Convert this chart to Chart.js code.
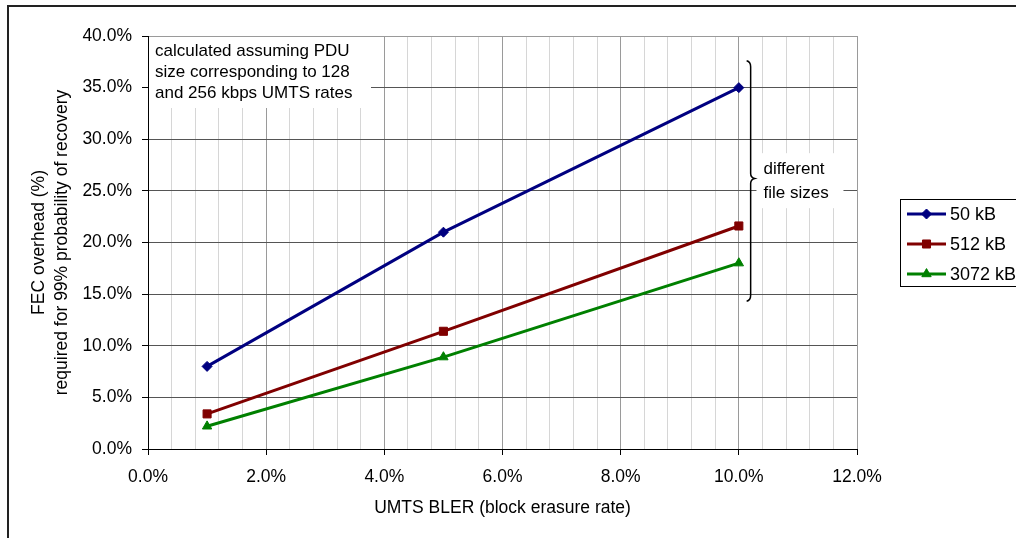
<!DOCTYPE html>
<html><head><meta charset="utf-8">
<script src="https://cdn.jsdelivr.net/npm/chart.js@4.4.0/dist/chart.umd.min.js"></script>
<style>html,body{margin:0;padding:0;background:#fff;overflow:hidden}#wrap{position:relative;width:1016px;height:538px}</style>
</head><body><div id="wrap"><canvas id="c" width="1016" height="538"></canvas></div>
<script>
// ---- data ----
const blerValues = [1, 5, 10];                 // UMTS BLER (%)
const overhead50kB = [8.0, 21.0, 35.0];        // FEC overhead (%)
const overhead512kB = [3.4, 11.4, 21.6];
const overhead3072kB = [2.2, 8.9, 18.0];
const seriesNames = ['50 kB', '512 kB', '3072 kB'];
const seriesColors = ['#000080', '#800000', '#008000'];
const seriesMarkers = ['rectRot', 'rect', 'triangle'];
const xRange = [0, 12];
const yRange = [0, 40];
const xTitle = 'UMTS BLER (block erasure rate)';
const yTitle = ['FEC overhead (%)', 'required for 99% probability of recovery'];
const noteLines = ['calculated assuming PDU', 'size corresponding to 128', 'and 256 kbps UMTS rates'];
const braceLines = ['different', 'file sizes'];

const FONT = "'Liberation Sans', Arial, sans-serif";
const seriesValues = [overhead50kB, overhead512kB, overhead3072kB];
const markerRadius = [5, 5.7, 5.4];

function isMajor(v) { return Math.abs(v / 2 - Math.round(v / 2)) < 1e-6; }

const datasets = seriesValues.map((vals, i) => ({
  label: seriesNames[i],
  data: blerValues.map((x, j) => ({ x: x, y: vals[j] })),
  borderColor: seriesColors[i],
  backgroundColor: seriesColors[i],
  borderWidth: 3,
  pointStyle: seriesMarkers[i],
  pointRadius: markerRadius[i],
  pointHoverRadius: markerRadius[i],
  pointBorderWidth: 1,
  pointBackgroundColor: seriesColors[i],
  pointBorderColor: seriesColors[i],
  tension: 0,
  fill: false
}));

const decor = {
  id: 'decor',
  beforeDraw(chart) {
    const ctx = chart.ctx;
    ctx.save();
    ctx.fillStyle = '#fff';
    ctx.fillRect(0, 0, chart.width, chart.height);
    // outer frame (top and left visible)
    ctx.strokeStyle = '#222';
    ctx.lineWidth = 2;
    ctx.beginPath();
    ctx.moveTo(8, chart.height + 2);
    ctx.lineTo(8, 6);
    ctx.lineTo(chart.width + 2, 6);
    ctx.stroke();
    ctx.restore();
  },
  beforeDatasetsDraw(chart) {
    const ctx = chart.ctx, a = chart.chartArea;
    const xs = chart.scales.x, ys = chart.scales.y;
    ctx.save();
    // note box
    ctx.fillStyle = '#fff';
    ctx.fillRect(a.left + 1, a.top + 1, 222, 71);
    ctx.fillStyle = '#000';
    ctx.font = '17px ' + FONT;
    ctx.textBaseline = 'alphabetic';
    ctx.textAlign = 'left';
    noteLines.forEach((t, i) => ctx.fillText(t, a.left + 7, a.top + 20 + i * 21));
    // brace label box
    const bx = xs.getPixelForValue(10.4) - 6;
    const by = ys.getPixelForValue(28.65);
    ctx.fillStyle = '#fff';
    ctx.fillRect(bx, by, 87, 55);
    ctx.fillStyle = '#000';
    braceLines.forEach((t, i) => ctx.fillText(t, bx + 7, by + 21 + i * 23.5));
    ctx.restore();
  },
  afterDatasetsDraw(chart) {
    const ctx = chart.ctx;
    const xs = chart.scales.x, ys = chart.scales.y;
    const x = xs.getPixelForValue(10.2);
    const yTop = ys.getPixelForValue(37.6);
    const yMid = ys.getPixelForValue(26.2);
    const yBot = ys.getPixelForValue(14.3);
    ctx.save();
    ctx.strokeStyle = '#000';
    ctx.lineWidth = 1.5;
    ctx.beginPath();
    ctx.moveTo(x - 4, yTop);
    ctx.quadraticCurveTo(x, yTop + 1, x, yTop + 6);
    ctx.lineTo(x, yMid - 5);
    ctx.quadraticCurveTo(x, yMid - 1, x + 4, yMid);
    ctx.quadraticCurveTo(x, yMid + 1, x, yMid + 5);
    ctx.lineTo(x, yBot - 6);
    ctx.quadraticCurveTo(x, yBot - 1, x - 4, yBot);
    ctx.stroke();
    ctx.restore();
  },
  afterDraw(chart) {
    const ctx = chart.ctx, a = chart.chartArea;
    const lx = a.right + 43, ly = 199;
    ctx.save();
    ctx.fillStyle = '#fff';
    ctx.fillRect(lx, ly, 140, 88);
    ctx.strokeStyle = '#000';
    ctx.lineWidth = 1;
    ctx.strokeRect(lx + 0.5, ly + 0.5, 140, 87);
    chart.data.datasets.forEach((ds, i) => {
      const y = ly + 15 + i * 30;
      ctx.strokeStyle = ds.borderColor;
      ctx.lineWidth = 3;
      ctx.beginPath();
      ctx.moveTo(lx + 7, y);
      ctx.lineTo(lx + 46, y);
      ctx.stroke();
      ctx.fillStyle = ds.borderColor;
      ctx.lineWidth = 1;
      Chart.helpers.drawPoint(ctx, { pointStyle: ds.pointStyle, radius: ds.pointRadius, rotation: 0, borderWidth: 1 }, lx + 26.5, y);
      ctx.fillStyle = '#000';
      ctx.font = '18px ' + FONT;
      ctx.textBaseline = 'middle';
      ctx.textAlign = 'left';
      ctx.fillText(ds.label, lx + 50, y + 1);
    });
    ctx.restore();
  }
};

new Chart(document.getElementById('c'), {
  type: 'line',
  data: { datasets: datasets },
  options: {
    responsive: false,
    animation: false,
    devicePixelRatio: 1,
    layout: { padding: { left: 0, right: 159, top: 36, bottom: 0 } },
    plugins: { legend: { display: false }, tooltip: { enabled: false } },
    scales: {
      x: {
        type: 'linear',
        min: xRange[0], max: xRange[1],
        afterFit: s => { s.height = 89; },
        ticks: {
          stepSize: 0.4, autoSkip: false, maxRotation: 0, padding: 12,
          color: '#000', font: { family: FONT, size: 17.5 },
          callback: v => isMajor(v) ? v.toFixed(1) + '%' : ''
        },
        grid: {
          color: c => (c.tick && isMajor(c.tick.value)) ? '#9a9a9a' : '#d6d6d6',
          tickColor: c => (c.tick && isMajor(c.tick.value)) ? '#000' : 'rgba(0,0,0,0)',
          tickLength: 6, lineWidth: 1
        },
        border: { color: '#000', width: 1 },
        title: { display: true, text: xTitle, color: '#000', font: { family: FONT, size: 17.5, lineHeight: 1.2 }, padding: { top: 0, bottom: 19.5 } }
      },
      y: {
        type: 'linear',
        min: yRange[0], max: yRange[1],
        afterFit: s => { s.width = 148; },
        ticks: {
          stepSize: 5, padding: 10, color: '#000', font: { family: FONT, size: 17.5 },
          callback: v => v.toFixed(1) + '%'
        },
        grid: {
          color: c => (c.tick && c.tick.value === yRange[1]) ? '#9a9a9a' : '#555',
          tickColor: '#000', tickLength: 6, lineWidth: 1
        },
        border: { color: '#000', width: 1 },
        title: { display: true, text: yTitle, color: '#000', font: { family: FONT, size: 17.5, lineHeight: 1.35 }, padding: { top: 27, bottom: 0 } }
      }
    }
  },
  plugins: [decor]
});
</script>
</body></html>
